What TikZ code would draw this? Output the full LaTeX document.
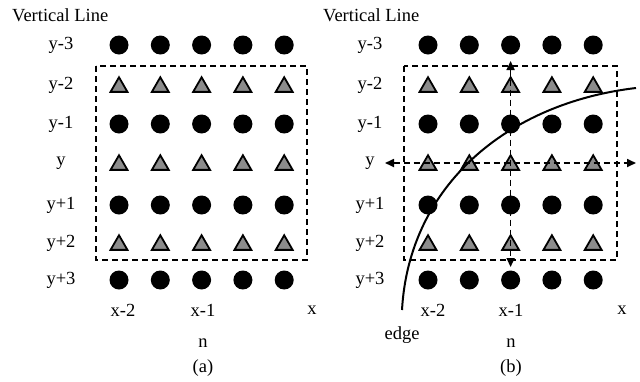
\documentclass[tikz,border=0pt]{standalone}
\usepackage{fontspec}
\setmainfont{Liberation Serif}
\usetikzlibrary{shapes.geometric,arrows.meta}
\begin{document}
\begin{tikzpicture}[x=1pt,y=-1pt,
  dot/.style={circle,fill=black,inner sep=0pt,minimum size=19pt},
  tri/.style={regular polygon,regular polygon sides=3,draw=black,fill=black!45,line width=1.8pt,inner sep=0pt,minimum size=19.5pt,yshift=-2pt},
  lbl/.style={font=\fontsize{18.5}{20}\selectfont,inner sep=0pt},
  dbox/.style={line width=2pt,dash pattern=on 6pt off 4pt},
  darrow/.style={line width=1.7pt,dash pattern=on 6pt off 4pt,{Triangle[length=9pt,width=8pt]}-{Triangle[length=9pt,width=8pt]}},
  edgeline/.style={line width=2pt}]
\useasboundingbox (0,0) rectangle (640,381);
\foreach \p/\ox in {a/119,b/428}{
  \foreach \r/\yy/\s/\t in {1/45/dot/y-3,2/85/tri/y-2,3/124/dot/y-1,4/163/tri/y,5/205/dot/y+1,6/243/tri/y+2,7/280/dot/y+3}{
    \node[lbl] (\p l\r) at (\ox-58,\yy) {\t};
    \foreach \c in {1,...,5}{
      \node[\s] (\p\r\c) at ({\ox+41.3*(\c-1)},\yy) {};
    }
  }
}
% panel (a)
\node[lbl,anchor=west] (avl) at (12,15) {Vertical Line};
\draw[dbox] (96,66) rectangle (307,260);
\node[lbl] (ax2) at (123,310) {x-2};
\node[lbl] (ax1) at (203,310) {x-1};
\node[lbl] (ax0) at (312,310) {x};
\node[lbl] (an) at (203,343) {n};
\node[lbl] (acap) at (203,368) {(a)};
% panel (b)
\node[lbl,anchor=west] (bvl) at (323,15) {Vertical Line};
\draw[dbox] (404,66) rectangle (617,260);
\coordinate (vtop) at (510.6,61);
\coordinate (vbot) at (510.6,267);
\coordinate (hl) at (385,163);
\coordinate (hr) at (636,163);
\draw[darrow] (hl) -- (hr);
\draw[darrow] (vtop) -- (vbot);
\draw[edgeline] (402,310) .. controls (409,185) and (508,103) .. (636,88);
\node[lbl] (bedge) at (402,335) {edge};
\node[lbl] (bx2) at (433,310) {x-2};
\node[lbl] (bx1) at (511,310) {x-1};
\node[lbl] (bx0) at (622,310) {x};
\node[lbl] (bn) at (511,343) {n};
\node[lbl] (bcap) at (511,368) {(b)};
\end{tikzpicture}
\end{document}
